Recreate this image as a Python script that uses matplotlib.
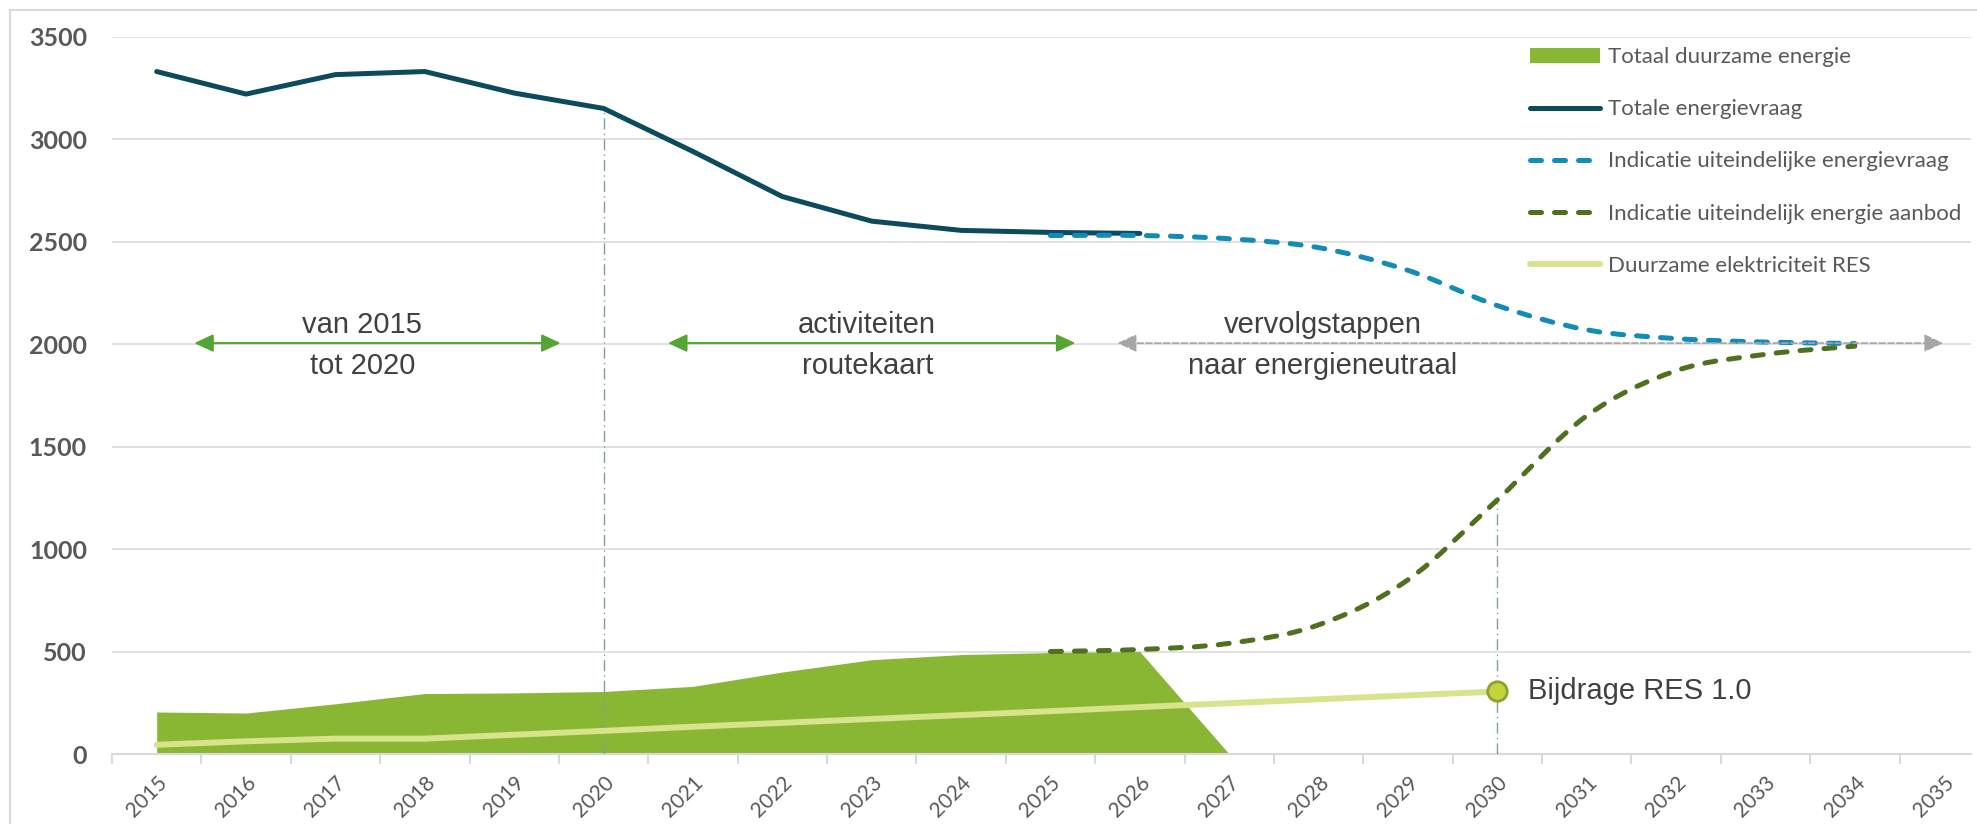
import matplotlib.pyplot as plt
import numpy as np
from matplotlib.path import Path
from matplotlib.patches import PathPatch, Patch
from matplotlib.lines import Line2D

plt.rcParams['font.family'] = ['Lato', 'DejaVu Sans']

# categorie-as
jaren = list(range(2015, 2036))

# Totaal duurzame energie (vlak)
jaren_duurzaam = list(range(2015, 2028))
totaal_duurzaam = [205, 200, 245, 295, 298, 305, 330, 400, 460, 485, 495, 500, 0]

# Totale energievraag
jaren_vraag = list(range(2015, 2027))
totale_vraag = [3330, 3220, 3315, 3330, 3225, 3150, 2940, 2720, 2600, 2555, 2545, 2540]

# Indicaties (gestippeld, afgevlakt)
jaren_indicatie = list(range(2025, 2035))
indicatie_vraag = [2530, 2530, 2514, 2471, 2360, 2188, 2070, 2027, 2010, 2003]
indicatie_aanbod = [500, 510, 540, 630, 850, 1240, 1650, 1870, 1950, 1990]

# Duurzame elektriciteit RES
jaren_res = list(range(2015, 2031))
res = [45, 62, 75, 75, 94, 113, 133, 152, 171, 190, 209, 229, 248, 267, 286, 305]

# fasen boven de grafiek: (van, tot, midden tekst, tekst boven, tekst onder)
fasen = [(2015.42, 2019.52, 2017.3, 'van 2015', 'tot 2020'),
         (2020.72, 2025.28, 2022.95, 'activiteiten', 'routekaart'),
         (2025.75, 2034.99, 2028.05, 'vervolgstappen', 'naar energieneutraal')]

kl_vlak = '#8ab733'
kl_vraag = '#0c4a5e'
kl_ind_vraag = '#118bb8'
kl_ind_aanbod = '#4f711f'
kl_res = '#d9e38c'
kl_tekst = '#404040'
kl_as = '#595959'
kl_grid = '#d9d9d9'
kl_hulp = '#7fa09a'


def glad_pad(xs, ys):
    # Excel-achtige afgevlakte lijn als bezierpad door de punten
    p = np.column_stack([xs, ys]).astype(float)
    verts = [p[0]]
    codes = [Path.MOVETO]
    for i in range(len(p) - 1):
        p0 = p[max(i - 1, 0)]
        p1 = p[i]
        p2 = p[i + 1]
        p3 = p[min(i + 2, len(p) - 1)]
        verts += [p1 + (p2 - p0) / 6, p2 - (p3 - p1) / 6, p2]
        codes += [Path.CURVE4] * 3
    return Path(verts, codes)


fig = plt.figure(figsize=(19.77, 8.24), dpi=100)
ax = fig.add_axes([112 / 1977, 1 - 754 / 824, (1971 - 112) / 1977, (754 - 36.7) / 824])
ax.set_xlim(2014.5, 2035.3)
ax.set_ylim(0, 3500)

# rand om de figuur (alleen links en boven zichtbaar)
fig.add_artist(Line2D([10 / 1977, 10 / 1977], [0, 1 - 10 / 824], color=kl_grid, lw=1.5))
fig.add_artist(Line2D([10 / 1977, 1], [1 - 10 / 824, 1 - 10 / 824], color=kl_grid, lw=1.5))

ax.fill_between(jaren_duurzaam, totaal_duurzaam, color=kl_vlak, lw=0, zorder=2)

ax.plot(jaren_vraag, totale_vraag, color=kl_vraag, lw=3.6, solid_capstyle='round',
        solid_joinstyle='round', zorder=4)

for xs, ys, kl in [(jaren_indicatie, indicatie_vraag, kl_ind_vraag),
                   (jaren_indicatie, indicatie_aanbod, kl_ind_aanbod)]:
    pp = PathPatch(glad_pad(xs, ys), fill=False, edgecolor=kl, lw=3.6,
                   linestyle=(0, (2.2, 2.6)), capstyle='round', zorder=5)
    ax.add_patch(pp)

ax.plot(jaren_res, res, color=kl_res, lw=4.3, solid_capstyle='round', zorder=4)
ax.plot(jaren_res[-1], res[-1], 'o', ms=14, mfc='#c3d33c', mec='#8fa12a', mew=2, zorder=7)
ax.annotate('Bijdrage RES 1.0', xy=(jaren_res[-1], res[-1]), xytext=(22, 0),
            textcoords='offset points', va='center', ha='left', fontsize=21,
            family='Liberation Sans', color=kl_tekst)

# verticale hulplijnen
ax.vlines(2020, 0, totale_vraag[jaren_vraag.index(2020)], colors=kl_hulp, lw=1,
          linestyles=(0, (8, 3, 1, 3)), zorder=3)
ax.vlines(2030, 0, indicatie_aanbod[jaren_indicatie.index(2030)], colors=kl_hulp, lw=1,
          linestyles=(0, (8, 3, 1, 3)), zorder=3)

# fasen met pijlen
for i, (x0, x1, xm, boven, onder) in enumerate(fasen):
    if i < 2:
        props = dict(arrowstyle='<|-|>,head_length=0.58,head_width=0.27', color='#55a535',
                     lw=1.5, shrinkA=0, shrinkB=0, mutation_scale=20)
    else:
        props = dict(arrowstyle='<|-|>,head_length=0.58,head_width=0.27', color='#a6a6a6',
                     lw=1.2, linestyle='--', shrinkA=0, shrinkB=0, mutation_scale=20)
    ax.annotate('', xy=(x1, 2005), xytext=(x0, 2005), arrowprops=props, zorder=6)
    ax.text(xm, 2093, boven, ha='center', va='center', fontsize=21,
            family='Liberation Sans', color=kl_tekst)
    ax.text(xm, 1893, onder, ha='center', va='center', fontsize=21,
            family='Liberation Sans', color=kl_tekst)

# assen
ax.yaxis.grid(True, color=kl_grid, lw=1.1)
ax.set_axisbelow(True)
for s in ['left', 'top', 'right']:
    ax.spines[s].set_visible(False)
ax.spines['bottom'].set_color(kl_grid)
ax.spines['bottom'].set_linewidth(1.5)

ax.set_yticks(range(0, 3501, 500))
ax.tick_params(axis='y', length=0, pad=18, labelsize=18, labelcolor=kl_as)
for lbl in ax.get_yticklabels():
    lbl.set_fontweight('bold')

ax.set_xticks(jaren)
ax.set_xticklabels([str(j) for j in jaren], rotation=45, ha='right', va='top',
                   rotation_mode='anchor')
ax.set_xticks(np.arange(2014.5, 2035.0, 1), minor=True)
ax.tick_params(axis='x', which='major', length=0, pad=13, labelsize=15, labelcolor=kl_as)
ax.tick_params(axis='x', which='minor', length=7, width=1.5, color=kl_grid)

handles = [Patch(facecolor=kl_vlak, edgecolor='none'),
           Line2D([], [], color=kl_vraag, lw=3.6, solid_capstyle='round'),
           Line2D([], [], color=kl_ind_vraag, lw=3.6, dashes=(2.2, 2.6), dash_capstyle='round'),
           Line2D([], [], color=kl_ind_aanbod, lw=3.6, dashes=(2.2, 2.6), dash_capstyle='round'),
           Line2D([], [], color=kl_res, lw=4.3, solid_capstyle='round')]
labels = ['Totaal duurzame energie', 'Totale energievraag',
          'Indicatie uiteindelijke energievraag', 'Indicatie uiteindelijk energie aanbod',
          'Duurzame elektriciteit RES']
leg = fig.legend(handles, labels, loc='upper left', bbox_to_anchor=(1530 / 1977, 1 - 47 / 824),
                 frameon=False, fontsize=16, handlelength=3.15, handleheight=0.65,
                 handletextpad=0.35, labelspacing=1.45, borderpad=0, borderaxespad=0)
for t in leg.get_texts():
    t.set_color(kl_as)

fig.savefig('out.png', dpi=100)
